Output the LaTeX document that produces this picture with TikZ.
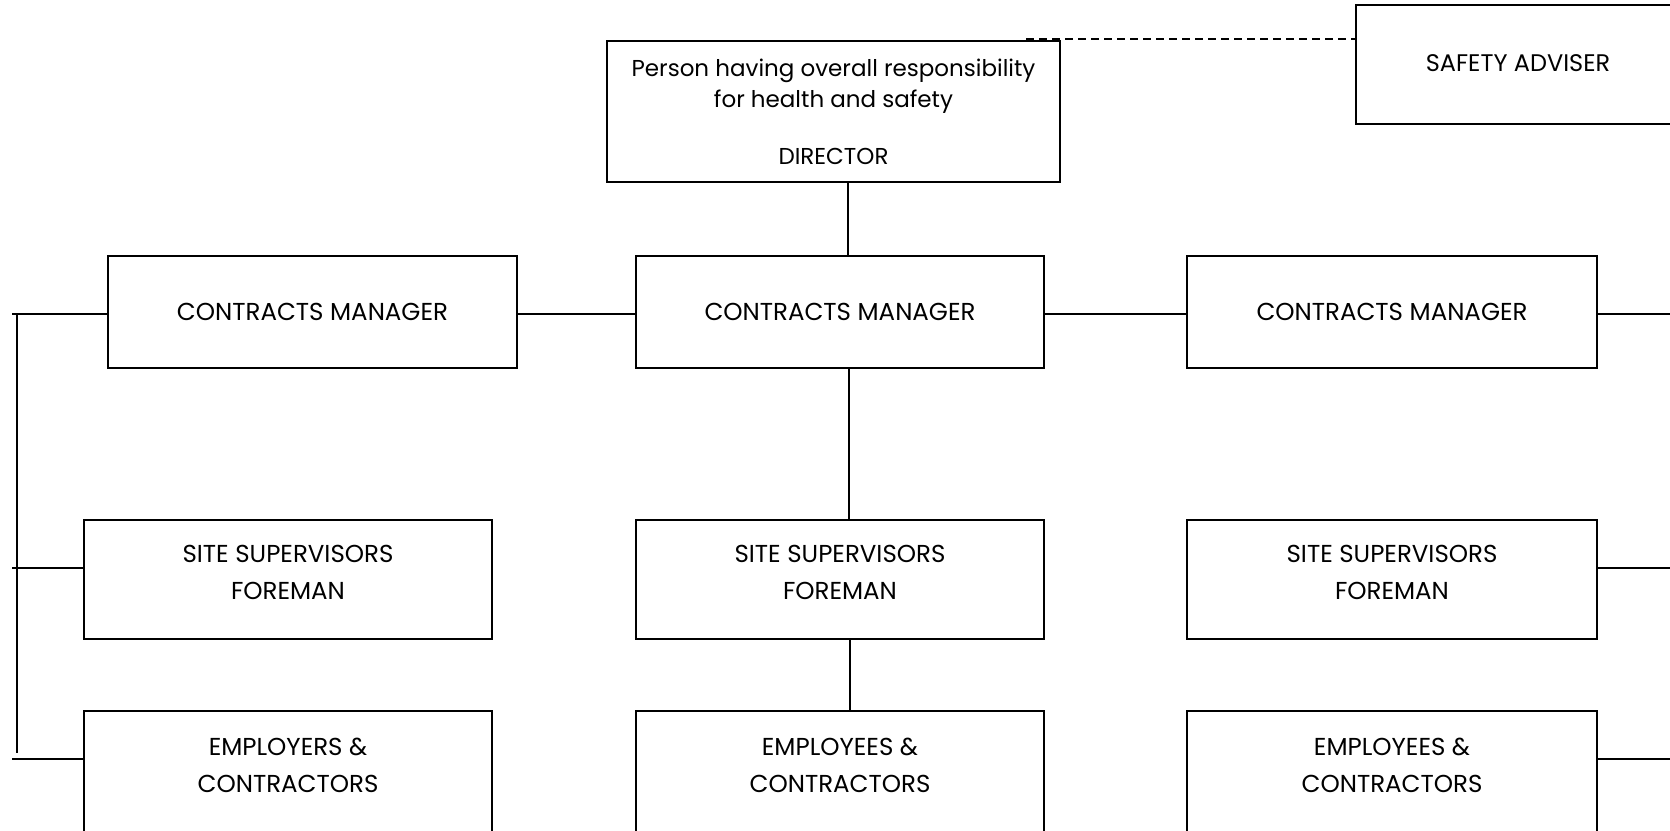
\documentclass[tikz,border=0pt]{standalone}
\usepackage{fontspec}
\setmainfont{Poppins}
\begin{document}
\begin{tikzpicture}[x=1pt,y=-1pt,
  box/.style={draw, rectangle, line width=1.7pt, inner sep=0pt, font=\fontsize{24.5}{37}\selectfont, align=center},
  lbl/.style={inner sep=0pt, font=\fontsize{24.5}{37}\selectfont, align=center},
  conn/.style={line width=1.7pt},
  dconn/.style={line width=1.7pt, dash pattern=on 8pt off 5pt}]
\useasboundingbox (0,0) rectangle (1670,830);
\clip (0,0) rectangle (1670,830);
% top
\node[box, minimum width=453pt, minimum height=141pt, font=\fontsize{23}{31}\selectfont] (dir) at (833.5,111.5)
  {Person having overall responsibility\\for health and safety\\[26pt]DIRECTOR};
\node[box, minimum width=324pt, minimum height=119pt, font=\fontsize{24}{37}\selectfont] (safe) at (1518,64.5) {\raisebox{3pt}{SAFETY ADVISER}};
% contracts managers
\node[box, minimum width=409pt, minimum height=112pt] (cm1) at (312.5,312) {CONTRACTS MANAGER};
\node[box, minimum width=408pt, minimum height=112pt] (cm2) at (840,312) {CONTRACTS MANAGER};
\node[box, minimum width=410pt, minimum height=112pt] (cm3) at (1392,312) {CONTRACTS MANAGER};
% site supervisors
\node[box, minimum width=408pt, minimum height=119pt] (ss1) at (288,579.5) {};
\node[box, minimum width=408pt, minimum height=119pt] (ss2) at (840,579.5) {};
\node[box, minimum width=410pt, minimum height=119pt] (ss3) at (1392,579.5) {};
\node[lbl] (ss1t) at (288,572.5) {SITE SUPERVISORS\\FOREMAN};
\node[lbl] (ss2t) at (840,572.5) {SITE SUPERVISORS\\FOREMAN};
\node[lbl] (ss3t) at (1392,572.5) {SITE SUPERVISORS\\FOREMAN};
% employees
\node[box, minimum width=408pt, minimum height=149pt] (emp1) at (288,785.5) {};
\node[box, minimum width=408pt, minimum height=149pt] (emp2) at (840,785.5) {};
\node[box, minimum width=410pt, minimum height=149pt] (emp3) at (1392,785.5) {};
\node[lbl] (emp1t) at (288,765) {EMPLOYERS \&\\CONTRACTORS};
\node[lbl] (emp2t) at (840,765) {EMPLOYEES \&\\CONTRACTORS};
\node[lbl] (emp3t) at (1392,765) {EMPLOYEES \&\\CONTRACTORS};
% free ends
\coordinate (D1) at (1026,39);
\coordinate (L1) at (12,314);
\coordinate (L2) at (12,568);
\coordinate (L3) at (12,759);
\coordinate (V1) at (17,314);
\coordinate (V2) at (17,753);
\coordinate (R1) at (1670,314);
\coordinate (R2) at (1670,568);
\coordinate (R3) at (1670,759);
% connectors
\draw[dconn] (D1) -- (safe.west |- D1);
\draw[conn] ([xshift=8pt]cm2.north |- dir.south) -- ([xshift=8pt]cm2.north);
\draw[conn] ([xshift=9pt]cm2.south) -- ([xshift=9pt]ss2.north);
\draw[conn] ([xshift=10pt]ss2.south) -- ([xshift=10pt]emp2.north);
\draw[conn] (cm1.east |- L1) -- (cm2.west |- L1);
\draw[conn] (cm2.east |- L1) -- (cm3.west |- L1);
\draw[conn] (cm3.east |- R1) -- (R1);
\draw[conn] (ss3.east |- R2) -- (R2);
\draw[conn] (emp3.east |- R3) -- (R3);
\draw[conn] (L1) -- (cm1.west |- L1);
\draw[conn] (L2) -- (ss1.west |- L2);
\draw[conn] (L3) -- (emp1.west |- L3);
\draw[conn] (V1) -- (V2);
\end{tikzpicture}
\end{document}
